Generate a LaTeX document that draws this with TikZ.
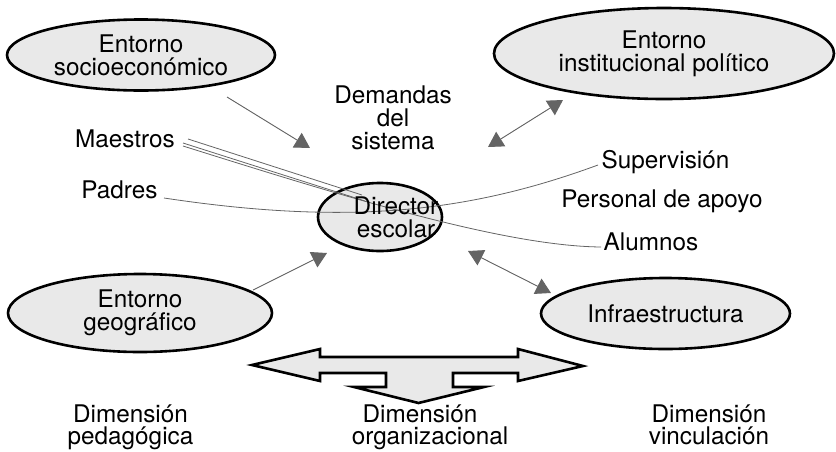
\documentclass[tikz,border=0pt]{standalone}
\usepackage{fontspec}
\setmainfont{TeX Gyre Heros}
\usetikzlibrary{arrows.meta,shapes.geometric}
\definecolor{ellfill}{RGB}{233,233,233}
\definecolor{arrgray}{RGB}{100,100,100}
\begin{document}
\begin{tikzpicture}[x=1pt,y=-1pt,
  every node/.style={font=\fontsize{24.3}{23}\selectfont, inner sep=0pt, text=black},
  ell/.style={ellipse, draw=black, line width=2.6pt, fill=ellfill, align=center},
  lbl/.style={align=center},
  rel/.style={draw=arrgray, line width=0.9pt},
  tipend/.style={-{Triangle[length=15pt,width=17pt]}},
  tipboth/.style={{Triangle[length=15pt,width=17pt]}-{Triangle[length=15pt,width=17pt]}},
  link/.style={draw=arrgray, line width=0.8pt},
  bigarrow/.style={draw=black, line width=2.6pt, fill=ellfill, line join=miter}
]
\useasboundingbox (0,0) rectangle (836,451);

% ellipses
\node[ell, minimum width=268pt, minimum height=71pt] (socio) at (141,55) {Entorno\\socioeconómico};
\node[ell, minimum width=340pt, minimum height=91pt] (inst) at (664,53.5) {Entorno\\institucional político};
\node[ell, minimum width=124pt, minimum height=68pt] (dir) at (380,217) {};
\node[ell, minimum width=264pt, minimum height=78pt] (geo) at (140,313) {Entorno\\geográfico};
\node[ell, minimum width=249pt, minimum height=71pt] (infra) at (665.5,313.5) {Infraestructura};

% plain labels
\node[lbl] (dem) at (393,118) {Demandas\\del\\sistema};
\node[anchor=base] (maes) at (125,147) {Maestros};
\node[anchor=base] (padres) at (119.5,198) {Padres};
\node[anchor=base] (sup) at (665.5,168) {Supervisión};
\node[anchor=base] (pers) at (662,207) {Personal de apoyo};
\node[anchor=base] (alum) at (651,250) {Alumnos};

% coordinates for connector ends
\coordinate (m1) at (188,139);
\coordinate (m2) at (183,143);
\coordinate (m3) at (183,146);
\coordinate (d1) at (362,195);
\coordinate (d2) at (365,201);
\coordinate (p0) at (164,198);
\coordinate (s0) at (598,165);
\coordinate (al0) at (601,247);

% thin relation lines
\draw[link] (m1) -- (d1);
\draw[link] (m2) -- (d2);
\draw[link] (m3) .. controls (330,192) and (500,246) .. (al0);
\draw[link] (p0) .. controls (350,226) and (470,212) .. (s0);

% director text on top
\node[lbl] (dirtext) at (396,217) {Director\\escolar};

% gray arrows
\coordinate (a1s) at (227,97);  \coordinate (a1e) at (310,148);
\coordinate (a2s) at (488,147); \coordinate (a2e) at (563,100);
\coordinate (a3s) at (253,290); \coordinate (a3e) at (327,253);
\coordinate (a4s) at (468,251); \coordinate (a4e) at (551,293);
\draw[rel, tipend, fill=arrgray] (a1s) -- (a1e);
\draw[rel, tipboth, fill=arrgray] (a2s) -- (a2e);
\draw[rel, tipend, fill=arrgray] (a3s) -- (a3e);
\draw[rel, tipboth, fill=arrgray] (a4s) -- (a4e);

% big three-way arrow
\draw[bigarrow] (252,365) -- (320,349) -- (320,357) -- (518,357) -- (518,349)
  -- (583,366) -- (518,381) -- (518,373) -- (453,373) -- (453,387) -- (484,387)
  -- (418.5,403) -- (354,387) -- (386,387) -- (386,373) -- (320,373) -- (320,381) -- cycle;

% dimension labels
\node[lbl, anchor=north, font=\fontsize{24.3}{22}\selectfont] (dped) at (130.5,405) {Dimensión\\pedagógica};
\node[lbl, anchor=north, font=\fontsize{24.3}{22}\selectfont] (dorg) at (430,405) {Dimensión\hspace*{20pt}\\organizacional};
\node[lbl, anchor=north, font=\fontsize{24.3}{22}\selectfont] (dvin) at (709,405) {Dimensión\\vinculación};
\end{tikzpicture}
\end{document}
